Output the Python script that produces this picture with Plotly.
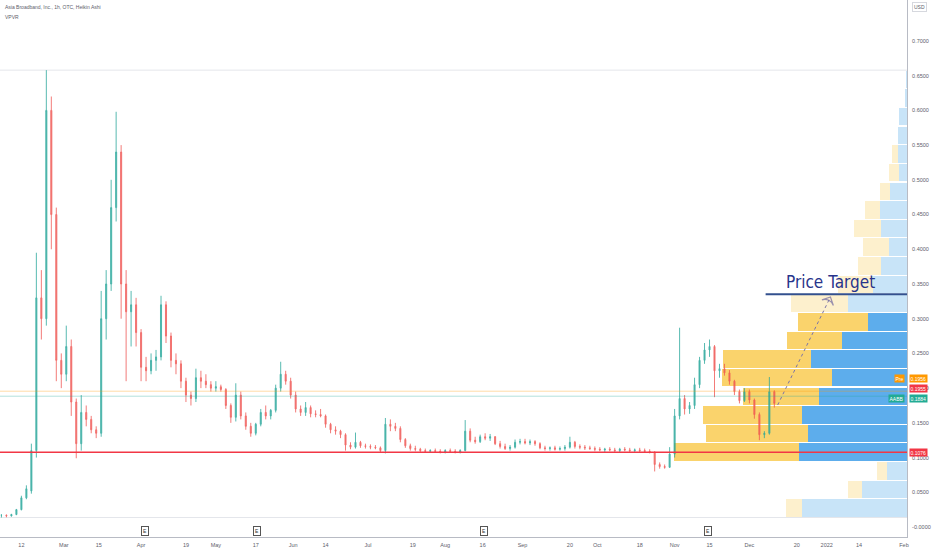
import plotly.graph_objects as go
import pandas as pd

# ---------------- data ----------------
title_text = "Asia Broadband, Inc., 1h, OTC, Heikin Ashi"
indicator_text = "VPVR"
start_date = "2021-02-04"   # first Heikin Ashi candle (2-day sampling)

opens = [0.017, 0.017, 0.016, 0.018, 0.025, 0.042, 0.052, 0.11, 0.33, 0.30,
         0.60, 0.45, 0.24, 0.22, 0.26, 0.18, 0.12, 0.165, 0.155, 0.14,
         0.135, 0.30, 0.35, 0.46, 0.54, 0.35, 0.31, 0.32, 0.28, 0.23,
         0.225, 0.24, 0.245, 0.32, 0.275, 0.24, 0.235, 0.21, 0.19, 0.185,
         0.215, 0.21, 0.205, 0.20, 0.202, 0.198, 0.175, 0.158, 0.19, 0.16,
         0.145, 0.135, 0.148, 0.165, 0.16, 0.168, 0.20, 0.22, 0.21, 0.19,
         0.17, 0.165, 0.172, 0.163, 0.162, 0.16, 0.148, 0.14, 0.138, 0.133,
         0.118, 0.115, 0.122, 0.117, 0.116, 0.115, 0.114, 0.11, 0.148, 0.145,
         0.142, 0.126, 0.117, 0.113, 0.112, 0.11, 0.109, 0.11, 0.109, 0.108,
         0.11, 0.109, 0.108, 0.11, 0.138, 0.125, 0.123, 0.13, 0.128, 0.13,
         0.12, 0.116, 0.113, 0.115, 0.122, 0.123, 0.121, 0.123, 0.12, 0.114,
         0.113, 0.114, 0.112, 0.113, 0.115, 0.122, 0.116, 0.115, 0.114, 0.113,
         0.112, 0.111, 0.112, 0.111, 0.11, 0.112, 0.111, 0.11, 0.111, 0.11,
         0.109, 0.108, 0.09, 0.087, 0.086, 0.105, 0.16, 0.185, 0.17, 0.175,
         0.205, 0.24, 0.255, 0.26, 0.225, 0.228, 0.222, 0.21, 0.195, 0.182,
         0.195, 0.183, 0.162, 0.133, 0.135, 0.195]
highs = [0.018, 0.018, 0.019, 0.026, 0.045, 0.06, 0.12, 0.395, 0.37, 0.658,
         0.62, 0.46, 0.25, 0.29, 0.27, 0.185, 0.19, 0.175, 0.16, 0.145,
         0.34, 0.37, 0.50, 0.598, 0.55, 0.37, 0.34, 0.33, 0.285, 0.245,
         0.25, 0.255, 0.333, 0.325, 0.28, 0.25, 0.24, 0.215, 0.195, 0.228,
         0.225, 0.22, 0.21, 0.21, 0.205, 0.20, 0.178, 0.207, 0.195, 0.165,
         0.15, 0.15, 0.17, 0.175, 0.17, 0.205, 0.238, 0.225, 0.215, 0.195,
         0.175, 0.18, 0.175, 0.168, 0.17, 0.162, 0.15, 0.145, 0.14, 0.135,
         0.122, 0.136, 0.124, 0.12, 0.119, 0.118, 0.116, 0.157, 0.155, 0.15,
         0.145, 0.128, 0.12, 0.117, 0.114, 0.113, 0.112, 0.113, 0.112, 0.112,
         0.113, 0.112, 0.112, 0.154, 0.142, 0.13, 0.133, 0.135, 0.134, 0.131,
         0.124, 0.12, 0.118, 0.126, 0.127, 0.127, 0.126, 0.125, 0.122, 0.117,
         0.116, 0.117, 0.116, 0.118, 0.13, 0.124, 0.119, 0.118, 0.117, 0.116,
         0.115, 0.114, 0.115, 0.114, 0.114, 0.115, 0.114, 0.113, 0.114, 0.113,
         0.112, 0.109, 0.093, 0.09, 0.115, 0.17, 0.287, 0.19, 0.18, 0.215,
         0.245, 0.265, 0.27, 0.262, 0.235, 0.235, 0.226, 0.212, 0.198, 0.20,
         0.198, 0.185, 0.165, 0.138, 0.216, 0.197]
lows = [0.0137, 0.014, 0.015, 0.017, 0.024, 0.04, 0.048, 0.10, 0.27, 0.29,
        0.40, 0.21, 0.20, 0.21, 0.16, 0.099, 0.11, 0.145, 0.135, 0.128,
        0.13, 0.27, 0.34, 0.44, 0.30, 0.21, 0.26, 0.26, 0.21, 0.21,
        0.22, 0.225, 0.24, 0.265, 0.23, 0.22, 0.20, 0.18, 0.175, 0.18,
        0.20, 0.20, 0.195, 0.195, 0.195, 0.17, 0.15, 0.152, 0.155, 0.14,
        0.13, 0.132, 0.145, 0.155, 0.155, 0.165, 0.195, 0.205, 0.185, 0.165,
        0.16, 0.16, 0.158, 0.158, 0.158, 0.143, 0.135, 0.133, 0.128, 0.11,
        0.112, 0.113, 0.114, 0.113, 0.112, 0.112, 0.108, 0.106, 0.138, 0.138,
        0.122, 0.114, 0.11, 0.109, 0.107, 0.107, 0.107, 0.107, 0.106, 0.106,
        0.107, 0.106, 0.106, 0.109, 0.122, 0.12, 0.121, 0.125, 0.124, 0.118,
        0.113, 0.111, 0.11, 0.113, 0.119, 0.119, 0.118, 0.117, 0.112, 0.11,
        0.11, 0.11, 0.11, 0.11, 0.113, 0.113, 0.112, 0.111, 0.111, 0.109,
        0.109, 0.108, 0.109, 0.108, 0.108, 0.109, 0.108, 0.107, 0.108, 0.107,
        0.106, 0.08, 0.084, 0.084, 0.085, 0.10, 0.155, 0.162, 0.163, 0.17,
        0.20, 0.235, 0.245, 0.187, 0.215, 0.218, 0.205, 0.19, 0.178, 0.18,
        0.178, 0.156, 0.125, 0.128, 0.133, 0.172]
closes = [0.017, 0.016, 0.018, 0.025, 0.042, 0.055, 0.11, 0.33, 0.30, 0.60,
          0.45, 0.24, 0.22, 0.26, 0.18, 0.12, 0.165, 0.155, 0.14, 0.135,
          0.30, 0.35, 0.46, 0.54, 0.35, 0.31, 0.32, 0.28, 0.23, 0.225,
          0.24, 0.245, 0.32, 0.275, 0.24, 0.235, 0.21, 0.19, 0.185, 0.215,
          0.21, 0.205, 0.20, 0.202, 0.198, 0.175, 0.158, 0.19, 0.16, 0.145,
          0.135, 0.148, 0.165, 0.16, 0.168, 0.20, 0.22, 0.21, 0.19, 0.17,
          0.165, 0.172, 0.163, 0.162, 0.16, 0.148, 0.14, 0.138, 0.133, 0.118,
          0.115, 0.122, 0.117, 0.116, 0.115, 0.114, 0.11, 0.148, 0.145, 0.142,
          0.126, 0.117, 0.113, 0.112, 0.11, 0.109, 0.11, 0.109, 0.108, 0.11,
          0.109, 0.108, 0.11, 0.138, 0.125, 0.123, 0.13, 0.128, 0.13, 0.12,
          0.116, 0.113, 0.115, 0.122, 0.123, 0.121, 0.123, 0.12, 0.114, 0.113,
          0.114, 0.112, 0.113, 0.115, 0.122, 0.116, 0.115, 0.114, 0.113, 0.112,
          0.111, 0.112, 0.111, 0.11, 0.112, 0.111, 0.11, 0.111, 0.11, 0.109,
          0.108, 0.09, 0.087, 0.086, 0.105, 0.16, 0.185, 0.17, 0.175, 0.205,
          0.24, 0.255, 0.26, 0.225, 0.228, 0.222, 0.21, 0.195, 0.182, 0.195,
          0.183, 0.162, 0.133, 0.135, 0.195, 0.178]

# Visible-range volume profile (24 rows, bottom -> top), arbitrary volume units
vp_up = [105, 45, 20, 108, 99, 105, 88, 75, 96, 65, 39, 59,
         34, 26, 18, 26, 27, 17, 8, 9, 9, 8, 2, 1]
vp_down = [16, 14, 10, 125, 102, 99, 76, 110, 88, 55, 70, 57,
           35, 23, 26, 27, 15, 10, 10, 6, 0, 0, 0, 0]
vp_value_area = [False, False, False, True, True, True, True, True, True, True, True, False,
                 False, False, False, False, False, False, False, False, False, False, False, False]

support_level = 0.1076
pre_price = 0.1956
last_ha_price = 0.1955
last_price = 0.1884
target_price = 0.3352
target_label = "Price Target"
target_line_start = "2021-12-07 12:00"
arrow_x = ["2021-12-12 08:00", "2022-01-02 12:00"]
arrow_y = [0.1757, 0.3313]
earnings_dates = ["2021-04-02 12:00", "2021-05-17 12:00", "2021-08-16 12:00", "2021-11-14 06:00"]

x_tick_dates = ["2021-02-12", "2021-03-01", "2021-03-15", "2021-04-01", "2021-04-19", "2021-05-01",
                "2021-05-17", "2021-06-01", "2021-06-14", "2021-07-01", "2021-07-19", "2021-08-01",
                "2021-08-16", "2021-09-01", "2021-09-20", "2021-10-01", "2021-10-18", "2021-11-01",
                "2021-11-15", "2021-12-01", "2021-12-20", "2022-01-01", "2022-01-14", "2022-02-01"]
x_tick_text = ["12", "Mar", "15", "Apr", "19", "May", "17", "Jun", "14", "Jul", "19", "Aug",
               "16", "Sep", "20", "Oct", "18", "Nov", "15", "Dec", "20", "2022", "14", "Feb"]
y_tick_vals = [0.0, 0.05, 0.10, 0.15, 0.20, 0.25, 0.30, 0.35, 0.40, 0.45, 0.50, 0.55, 0.60, 0.65, 0.70]
y_tick_text = ["-0.0000", "0.0500", "0.1000", "0.1500", "0.2000", "0.2500", "0.3000", "0.3500",
               "0.4000", "0.4500", "0.5000", "0.5500", "0.6000", "0.6500", "0.7000"]

# ---------------- figure ----------------
dates = pd.date_range(start_date, periods=len(closes), freq="2D")

UP = "#26a69a"
DOWN = "#ef5350"
TXT = "#5d606b"
FONT = "Liberation Sans"

vp_low = min(lows)
vp_high = max(highs)
n_rows = len(vp_up)
row_h = (vp_high - vp_low) / n_rows
row_mid = [vp_low + (i + 0.5) * row_h for i in range(n_rows)]

up_cols = ["#5dadec" if va else "#c8e4f8" for va in vp_value_area]
dn_cols = ["#fad36c" if va else "#fdf0cd" for va in vp_value_area]

fig = go.Figure()

max_total = max(u + d for u, d in zip(vp_up, vp_down))
fig.add_trace(go.Bar(y=row_mid, x=vp_up, orientation="h", width=row_h * 0.94,
                     marker=dict(color=up_cols, line=dict(width=0)), xaxis="x", yaxis="y",
                     hoverinfo="skip", showlegend=False))
fig.add_trace(go.Bar(y=row_mid, x=vp_down, orientation="h", width=row_h * 0.94,
                     marker=dict(color=dn_cols, line=dict(width=0)), xaxis="x", yaxis="y",
                     hoverinfo="skip", showlegend=False))

fig.add_trace(go.Candlestick(
    x=dates, open=opens, high=highs, low=lows, close=closes,
    xaxis="x2", yaxis="y",
    increasing=dict(line=dict(color=UP, width=0.9), fillcolor=UP),
    decreasing=dict(line=dict(color=DOWN, width=0.9), fillcolor=DOWN),
    whiskerwidth=0, opacity=0.85, showlegend=False, hoverinfo="skip"))

# dotted projection arrow
fig.add_trace(go.Scatter(
    x=arrow_x, y=arrow_y, xaxis="x2", yaxis="y", mode="lines+markers",
    line=dict(color="#7b73a8", width=1, dash="dot"),
    marker=dict(symbol=["circle", "arrow-wide-open"], size=[0, 9], angleref="previous",
                color="#6f679f", line=dict(color="#6f679f", width=1.2)),
    hoverinfo="skip", showlegend=False))

x_range = ["2021-02-03 10:00", "2022-02-02 05:00"]
y_range = [-0.0144, 0.759]

shapes = [
    dict(type="line", xref="paper", x0=0, x1=1, yref="y", y0=vp_high, y1=vp_high,
         line=dict(color="#e4e6eb", width=1), layer="below"),
    dict(type="line", xref="paper", x0=0, x1=1, yref="y", y0=vp_low, y1=vp_low,
         line=dict(color="#e4e6eb", width=1), layer="below"),
    dict(type="line", xref="paper", x0=0, x1=1, yref="y", y0=pre_price, y1=pre_price,
         line=dict(color="rgba(255,152,0,0.35)", width=1), layer="above"),
    dict(type="line", xref="paper", x0=0, x1=1, yref="y", y0=last_price, y1=last_price,
         line=dict(color="rgba(38,166,154,0.35)", width=1), layer="above"),
    dict(type="line", xref="paper", x0=0, x1=1, yref="y", y0=support_level, y1=support_level,
         line=dict(color="#f23645", width=1.5), layer="above"),
    dict(type="line", xref="x2", x0=target_line_start, x1=x_range[1], yref="y",
         y0=target_price, y1=target_price, line=dict(color="#33508e", width=2), layer="above"),
]

ann = [
    dict(text=title_text, xref="paper", yref="paper", x=0.003, y=1 - 7 / 537,
         xanchor="left", yanchor="middle", showarrow=False, font=dict(size=5, color=TXT, family=FONT)),
    dict(text=indicator_text, xref="paper", yref="paper", x=0.003, y=1 - 17 / 537,
         xanchor="left", yanchor="middle", showarrow=False, font=dict(size=5, color=TXT, family=FONT)),
    dict(text=target_label, xref="x2", yref="y", x="2022-01-02 10:00", y=target_price,
         yshift=12, xanchor="center", yanchor="middle", showarrow=False,
         font=dict(size=17, color="#27348b",
                   family="Liberation Sans Narrow, DejaVu Sans Condensed, Liberation Sans, sans-serif")),
    dict(text="USD", xref="paper", yref="paper", x=1.005, y=1 - 7 / 537, xanchor="left",
         yanchor="middle", showarrow=False, bordercolor="#d6d8de", borderwidth=1, borderpad=1,
         font=dict(size=5, color=TXT, family=FONT)),
]

def price_tag(text, price, color, yshift=0, left_text=None):
    out = [dict(text=text, xref="paper", yref="y", x=1.002, y=price, yshift=yshift,
                xanchor="left", yanchor="middle", showarrow=False, bgcolor=color,
                borderpad=0.5, font=dict(size=5, color="white", family=FONT))]
    if left_text:
        out.append(dict(text=left_text, xref="paper", yref="y", x=0.998, y=price, yshift=yshift,
                        xanchor="right", yanchor="middle", showarrow=False, bgcolor=color,
                        borderpad=0.5, font=dict(size=5, color="white", family=FONT)))
    return out

ann += price_tag("0.1956", pre_price, "#ff9800", yshift=12.5, left_text="Pre")
ann += price_tag("0.1955", last_ha_price, "#f23645", yshift=2.5)
ann += price_tag("0.1884", last_price, "#22ab94", yshift=-2, left_text="AABB")
ann += price_tag("0.1076", support_level, "#f23645", yshift=0)

for d in earnings_dates:
    ann.append(dict(text="E", xref="x2", yref="paper", x=d, y=6 / 537, xanchor="center",
                    yanchor="middle", showarrow=False, bgcolor="white", bordercolor="#555",
                    borderwidth=1, borderpad=1, font=dict(size=5, color="#333", family=FONT)))

fig.update_layout(
    width=932, height=550,
    margin=dict(l=0, r=25, t=0, b=13),
    paper_bgcolor="white", plot_bgcolor="white",
    barmode="stack", bargap=0, boxgap=0.7,
    font=dict(family=FONT, size=6, color=TXT),
    showlegend=False,
    xaxis=dict(range=[max_total / 0.257, 0], visible=False, fixedrange=True),
    xaxis2=dict(overlaying="x", anchor="y", side="bottom", type="date", range=x_range,
                tickmode="array", tickvals=x_tick_dates, ticktext=x_tick_text,
                showgrid=False, zeroline=False, showline=True, linecolor="#b8bbc4", linewidth=1,
                ticks="outside", ticklen=2, tickcolor="rgba(0,0,0,0)",
                tickfont=dict(size=5.5, color=TXT, family=FONT),
                rangeslider=dict(visible=False)),
    yaxis=dict(side="right", range=y_range, tickmode="array", tickvals=y_tick_vals,
               ticktext=y_tick_text, showgrid=False, zeroline=False, showline=True,
               linecolor="#b8bbc4", linewidth=1, ticks="outside", ticklen=3,
               tickcolor="rgba(0,0,0,0)", tickfont=dict(size=5.5, color=TXT, family=FONT)),
    shapes=shapes,
    annotations=ann,
)

fig.write_html("out.html", config={"displayModeBar": False},
               post_script="document.body.style.margin='0px';document.body.style.overflow='hidden';")
